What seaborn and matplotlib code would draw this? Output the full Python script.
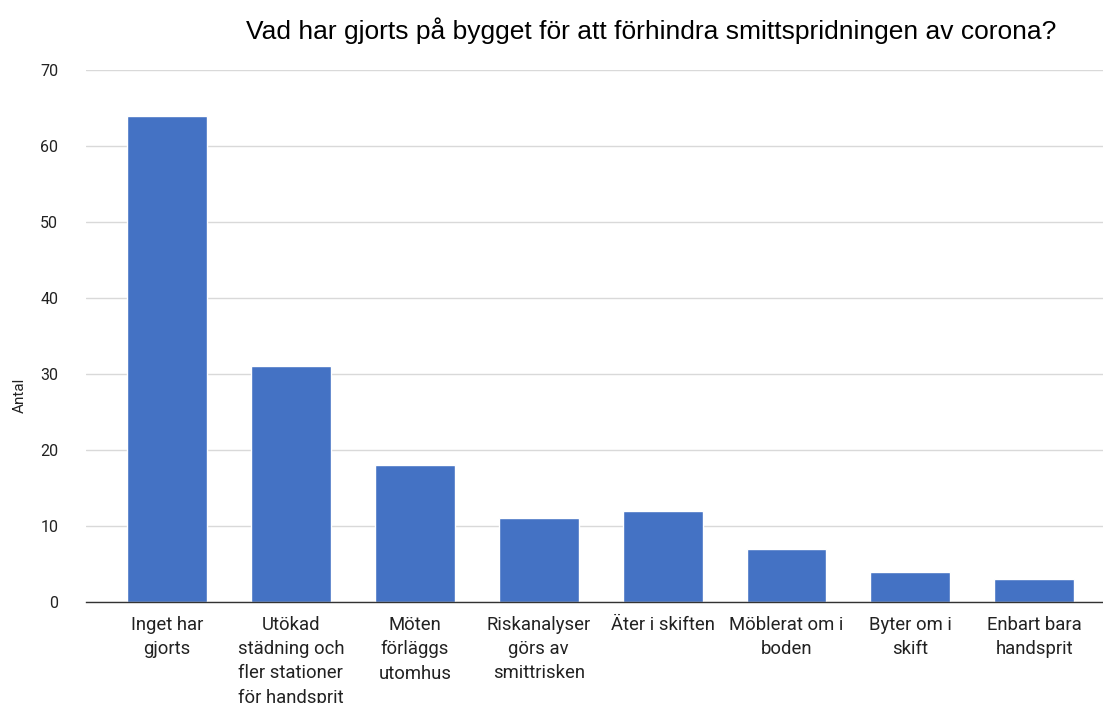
import matplotlib
matplotlib.use("Agg")
import matplotlib.pyplot as plt
import seaborn as sns
import pandas as pd

categories = [
    "Inget har\ngjorts",
    "Utökad\nstädning och\nfler stationer\nför handsprit",
    "Möten\nförläggs\nutomhus",
    "Riskanalyser\ngörs av\nsmittrisken",
    "Äter i skiften",
    "Möblerat om i\nboden",
    "Byter om i\nskift",
    "Enbart bara\nhandsprit",
]
values = [64, 31, 18, 11, 12, 7, 4, 3]
yticks = [0, 10, 20, 30, 40, 50, 60, 70]

title = "Vad har gjorts på bygget för att förhindra smittspridningen av corona?"
ylabel = "Antal"

sns.set_style("white")
plt.rcParams["font.family"] = ["Roboto", "DejaVu Sans"]

df = pd.DataFrame({"cat": categories, "val": values})

fig = plt.figure(figsize=(11.03, 7.03), dpi=100)
ax = fig.add_axes([86 / 1103, 1 - 602 / 703, (1103 - 86) / 1103, (602 - 70) / 703])

sns.barplot(data=df, x="cat", y="val", color="#4472C4", saturation=1,
            width=0.645, ax=ax, zorder=3)

ax.set_xlim(-0.654, 7.555)
ax.set_ylim(0, 70)
ax.set_yticks(yticks)
ax.set_yticklabels([str(t) for t in yticks], fontsize=11.5, color="#222222")
ax.yaxis.grid(True, color="#d9d9d9", linewidth=1, zorder=0)
ax.tick_params(axis="y", length=0, pad=20)
ax.tick_params(axis="x", length=0, pad=10)
for lbl in ax.get_xticklabels():
    lbl.set_fontsize(13.3)
    lbl.set_color("#222222")
    lbl.set_linespacing(1.45)
    lbl.set_verticalalignment("top")

for s in ["top", "right", "left"]:
    ax.spines[s].set_visible(False)
ax.spines["bottom"].set_color("#333333")
ax.spines["bottom"].set_linewidth(1)
ax.spines["bottom"].set_zorder(4)

ax.set_xlabel("")
ax.set_ylabel("")
fig.text(20 / 1103, 1 - 395 / 703, ylabel, rotation=90, ha="center", va="center",
         fontsize=11, color="#222222")

fig.text(651 / 1103, 1 - 31 / 703, title, ha="center", va="center",
         fontsize=19, color="#000000", family=["Liberation Sans", "DejaVu Sans"])

fig.savefig("out.png", dpi=100, facecolor="white")
